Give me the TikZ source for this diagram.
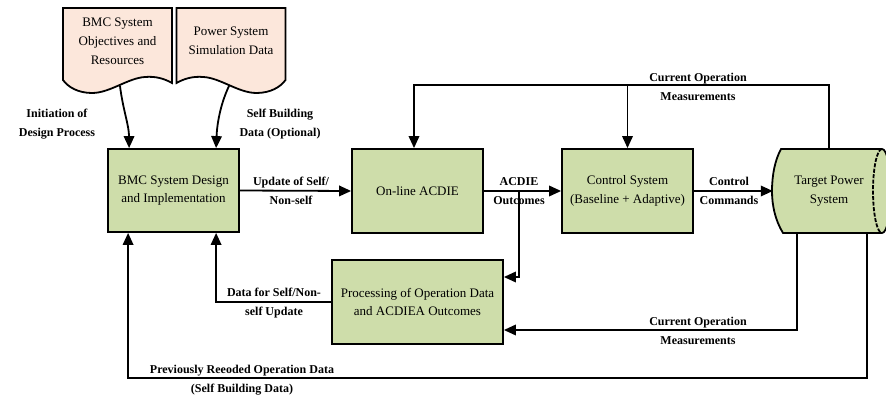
\documentclass[tikz,border=0pt]{standalone}
\usepackage{fontspec}
\setmainfont{Liberation Serif}
\usetikzlibrary{arrows.meta,calc}
\definecolor{boxgreen}{RGB}{206,221,170}
\definecolor{docpeach}{RGB}{252,231,219}
\begin{document}
\begin{tikzpicture}[x=1pt,y=-1pt,
  wire/.style={line width=1.8pt, line join=miter},
  arr/.style={wire, -{Triangle[length=12pt,width=10.5pt]}},
  block/.style={draw, line width=1.8pt, fill=boxgreen, inner sep=0pt, align=center,
    font=\fontsize{13}{18.5}\selectfont},
  plaintext/.style={inner sep=0pt, align=center, font=\fontsize{13}{19}\selectfont},
  tag/.style={inner sep=0pt, align=center, font=\bfseries\fontsize{12}{18.5}\selectfont}]

\fill[white] (0,0) rectangle (886,398);
\useasboundingbox (0,0) rectangle (886,398);

% input documents
\filldraw[wire, fill=docpeach] (63,8) -- (172,8) -- (172,83)
  .. controls (165,79) and (156,76) .. (145,77)
  .. controls (128,78) and (110,93) .. (92,93)
  .. controls (78,93) and (68,87) .. (63,80) -- cycle;
\filldraw[wire, fill=docpeach] (176.5,8) -- (285.5,8) -- (285.5,80)
  .. controls (280.5,87) and (270.5,93) .. (256.5,93)
  .. controls (238.5,93) and (220.5,78) .. (203.5,77)
  .. controls (192.5,76) and (183.5,79) .. (176.5,83) -- cycle;
\node[plaintext] (objectives) at (117.5,41) {BMC System\\Objectives and\\Resources};
\node[plaintext] (simdata) at (231,41) {Power System\\Simulation Data};

% process blocks
\node[block, minimum width=131pt, minimum height=83pt] (design) at (173.5,190.5)
  {BMC System Design\\and Implementation};
\node[block, minimum width=131pt, minimum height=84pt] (acdie) at (417.5,191) {On-line ACDIE};
\node[block, minimum width=131pt, minimum height=84pt] (ctrl) at (627.5,191)
  {Control System\\(Baseline + Adaptive)};
\node[block, minimum width=171pt, minimum height=84pt] (proc) at (417.5,302)
  {Processing of Operation Data\\and ACDIEA Outcomes};

% plant drawn as a horizontal drum
\fill[boxgreen] (781,149) -- (882,149)
  .. controls (887,149) and (891,168) .. (891,191)
  .. controls (891,214) and (887,233) .. (882,233) -- (783,233)
  .. controls (775,220) and (772,205) .. (772,191)
  .. controls (772,175) and (775,160) .. (781,149) -- cycle;
\draw[wire] (882,149) -- (781,149)
  .. controls (775,160) and (772,175) .. (772,191)
  .. controls (772,205) and (775,220) .. (783,233) -- (882,233);
\draw[wire] (882,149) .. controls (887,149) and (891,168) .. (891,191)
  .. controls (891,214) and (887,233) .. (882,233);
\draw[wire, dashed, dash pattern=on 4pt off 1.5pt] (882,149)
  .. controls (877,149) and (873,168) .. (873,191)
  .. controls (873,214) and (877,233) .. (882,233);
\node[plaintext, minimum width=112pt, minimum height=84pt] (target) at (829,191) {Target Power\\System};

% connection points
\coordinate (objOut) at (120,86);
\coordinate (simOut) at (229,86);
\coordinate (dTop1) at ($(design.north west)+(22,0)$);
\coordinate (dTop2) at ($(design.north west)+(109,0)$);
\coordinate (dBot1) at ($(design.south west)+(21,0)$);
\coordinate (dBot2) at ($(design.south west)+(109,0)$);
\coordinate (acdieIn) at ($(acdie.north)+(-3.5,0)$);
\coordinate (outTap) at (519,191);
\coordinate (topbar) at (0,85);
\coordinate (lowbar) at (0,330);
\coordinate (botbar) at (0,378);
\coordinate (tBot1) at (797,233);
\coordinate (tBot2) at (867,233);

% connectors
\draw[arr] (objOut) .. controls (123,110) and (129,125) .. (dTop1);
\draw[arr] (simOut) .. controls (220,105) and (217,125) .. (dTop2);
\draw[arr] (design.east) -- (acdie.west);
\draw[arr] (acdie.east) -- (ctrl.west);
\draw[arr] (ctrl.east) -- (target.west);
\draw[arr] (outTap) |- ($(proc.east)+(0,-25)$);
\draw[arr] (target.north) |- (topbar -| acdieIn) -- (acdieIn);
\draw[arr] (topbar -| ctrl.north) -- (ctrl.north);
\draw[arr] (tBot1) |- (lowbar -| proc.east);
\draw[arr] (tBot2) |- (botbar -| dBot1) -- (dBot1);
\draw[arr] (proc.west) -| (dBot2);

% connector labels
\node[tag] (lblInit) at (57,124) {Initiation of\\Design Process};
\node[tag] (lblSelfB) at (280,124) {Self Building\\Data (Optional)};
\node[tag] (lblUpd) at (291,191) {Update of Self/\\Non-self};
\node[tag] (lblOut) at (519,191) {ACDIE\\Outcomes};
\node[tag] (lblCmd) at (729,191) {Control\\Commands};
\node[tag] (lblTop) at (698,87) {Current Operation\\Measurements};
\node[tag] (lblLow) at (698,331) {Current Operation\\Measurements};
\node[tag] (lblData) at (274,303) {Data for Self/Non-\\self Update};
\node[tag] (lblPrev) at (242,380) {Previously Reeoded Operation Data\\(Self Building Data)};
\end{tikzpicture}
\end{document}
